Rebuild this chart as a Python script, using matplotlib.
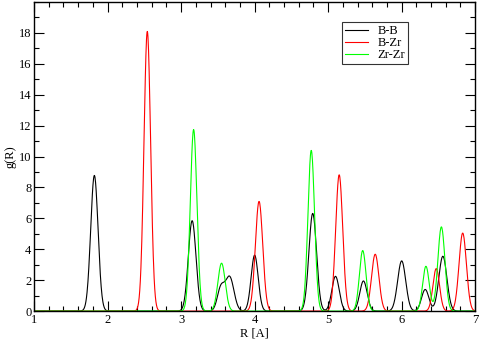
import numpy as np
import matplotlib.pyplot as plt
from matplotlib.ticker import MultipleLocator

plt.rcParams['font.family'] = ['Liberation Serif', 'DejaVu Serif']

# peak positions (A), heights and widths
bb_pos = [1.82, 3.15, 3.54, 3.66, 4.00, 4.79, 5.10, 5.48, 6.00, 6.32, 6.56]
bb_hgt = [8.78, 5.85, 1.45, 2.20, 3.62, 6.32, 2.25, 1.95, 3.25, 1.40, 3.55]
bb_wid = [0.050, 0.052, 0.048, 0.058, 0.048, 0.052, 0.050, 0.050, 0.055, 0.050, 0.055]

bzr_pos = [2.54, 4.06, 5.15, 5.64, 6.47, 6.83]
bzr_hgt = [18.1, 7.10, 8.82, 3.68, 2.75, 5.05]
bzr_wid = [0.045, 0.050, 0.048, 0.050, 0.045, 0.050]

zrzr_pos = [3.17, 3.55, 4.77, 5.47, 6.33, 6.54]
zrzr_hgt = [11.75, 3.10, 10.40, 3.92, 2.90, 5.45]
zrzr_wid = [0.045, 0.050, 0.045, 0.045, 0.045, 0.048]

r = np.linspace(1, 7, 1500)


def curve(pos, hgt, wid):
    g = np.zeros_like(r)
    for p, h, w in zip(pos, hgt, wid):
        g += h * np.exp(-0.5 * ((r - p) / w) ** 2)
    return g


fig = plt.figure(figsize=(4.8, 3.4), dpi=100)
ax = fig.add_axes([0.071, 0.085, 0.919, 0.909])
ax.plot(r, curve(bb_pos, bb_hgt, bb_wid), color='black', lw=0.8, label='B-B')
ax.plot(r, curve(bzr_pos, bzr_hgt, bzr_wid), color='red', lw=0.8, label='B-Zr')
ax.plot(r, curve(zrzr_pos, zrzr_hgt, zrzr_wid), color='#00ff00', lw=0.8, label='Zr-Zr')

ax.set_xlim(1, 7)
ax.set_ylim(0, 20)
ax.xaxis.set_major_locator(MultipleLocator(1))
ax.xaxis.set_minor_locator(MultipleLocator(0.2))
ax.yaxis.set_minor_locator(MultipleLocator(1))
ax.set_yticks(range(0, 19, 2))
ax.tick_params(which='both', direction='in', top=True, right=True, labelsize=9, pad=2)
ax.tick_params(which='major', length=7, width=0.8)
ax.tick_params(which='minor', length=3.5, width=0.8)
ax.set_xlabel('R [A]', fontsize=9, labelpad=1)
ax.set_ylabel('g(R)', fontsize=9, labelpad=2)
for s in ax.spines.values():
    s.set_linewidth(1)

leg = ax.legend(loc='upper left', bbox_to_anchor=(0.698, 0.935), fontsize=9,
                frameon=True, fancybox=False, edgecolor='black', handlelength=1.8,
                borderpad=0.25, labelspacing=0.0, handletextpad=0.8, borderaxespad=0)
leg.get_frame().set_linewidth(0.8)

fig.savefig('out.png', dpi=100)
